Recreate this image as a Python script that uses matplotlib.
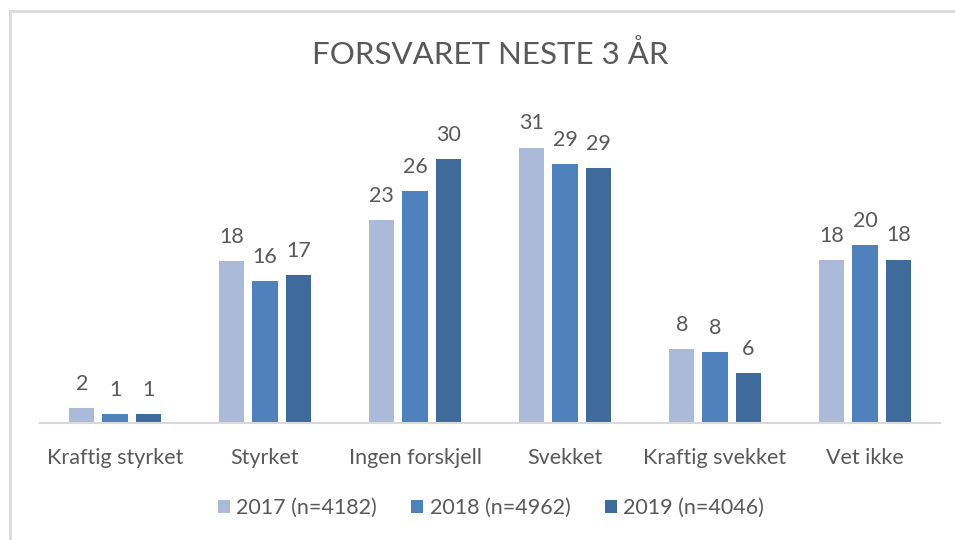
import matplotlib
matplotlib.use('Agg')
import matplotlib.pyplot as plt
import numpy as np
from matplotlib.lines import Line2D

plt.rcParams['font.family'] = ['Lato', 'DejaVu Sans']

categories = ['Kraftig styrket', 'Styrket', 'Ingen forskjell', 'Svekket', 'Kraftig svekket', 'Vet ikke']
series_names = ['2017 (n=4182)', '2018 (n=4962)', '2019 (n=4046)']
vals_2017 = [1.7, 18.2, 22.8, 31.0, 8.3, 18.3]
vals_2018 = [1.05, 16.0, 26.1, 29.1, 8.0, 20.0]
vals_2019 = [1.05, 16.6, 29.7, 28.7, 5.6, 18.4]
colors = ['#abbad8', '#4f81bd', '#3e6a9c']

text_col = '#595959'

fig = plt.figure(figsize=(9.55, 5.4), dpi=100)
ax = fig.add_axes([40 / 955, 117 / 540, 900 / 955, 311 / 540])

x = np.arange(len(categories))
w = 0.17
step = 0.222
for k, (vals, name, c) in enumerate(zip([vals_2017, vals_2018, vals_2019], series_names, colors)):
    xs = x + (k - 1) * step
    ax.bar(xs, vals, width=w, color=c, label=name, zorder=2)
    for xi, v in zip(xs, vals):
        ax.annotate('%.0f' % v, (xi, v), xytext=(0, 13), textcoords='offset points',
                    ha='center', va='baseline', fontsize=15.5, color=text_col)

ax.set_xlim(-0.5, len(categories) - 0.5)
ax.set_ylim(0, 35)
ax.set_yticks([])
for s in ['top', 'right', 'left']:
    ax.spines[s].set_visible(False)
ax.spines['bottom'].set_color('#d9d9d9')
ax.spines['bottom'].set_linewidth(1.5)
ax.set_xticks(x)
ax.set_xticklabels(categories, fontsize=15.5, color=text_col)
ax.tick_params(axis='x', length=0, pad=18)

fig.text(490 / 955, 1 - 54 / 540, 'FORSVARET NESTE 3 ÅR', ha='center', va='center',
         fontsize=22.5, color=text_col)

leg = fig.legend(loc='center', bbox_to_anchor=(491 / 955, 1 - 508 / 540), ncol=3, frameon=False,
                 fontsize=15.5, handlelength=0.55, handleheight=0.55, handletextpad=0.3,
                 columnspacing=1.6)
for t in leg.get_texts():
    t.set_color(text_col)

# chart border (only top and left are visible in the crop)
fig.add_artist(Line2D([10 / 955, 10 / 955], [0, 1 - 11 / 540], color='#d9d9d9', lw=2))
fig.add_artist(Line2D([10 / 955, 1], [1 - 11 / 540, 1 - 11 / 540], color='#d9d9d9', lw=2))

fig.savefig('out.png', dpi=100, facecolor='white')
